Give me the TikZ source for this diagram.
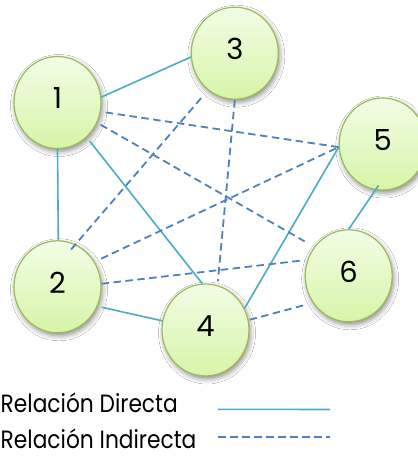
\documentclass[tikz,border=0pt]{standalone}
\usepackage{fontspec}
\setmainfont{Poppins}
\newfontfamily\legendfont[FakeStretch=0.87]{Poppins}
\usetikzlibrary{shapes.geometric,shadows.blur}
\definecolor{linkteal}{HTML}{4BACC6}
\definecolor{linkblue}{HTML}{4F81BD}
\definecolor{nodeborder}{HTML}{9BBB59}
\definecolor{nodetop}{RGB}{242,253,230}
\definecolor{nodebottom}{RGB}{214,245,168}
\tikzset{
  actor/.style={ellipse, minimum width=87pt, minimum height=92pt, inner sep=0pt,
    draw=nodeborder, line width=1.2pt, top color=nodetop, bottom color=nodebottom,
    blur shadow={shadow xshift=1.5pt, shadow yshift=-3pt, shadow blur radius=5pt, shadow opacity=45},
    font=\fontsize{29}{29}\selectfont, text height=20.5pt, text depth=8pt},
  directline/.style={draw=linkteal, line width=1.6pt},
  indirectline/.style={draw=linkblue, line width=1.8pt, dash pattern=on 7.5pt off 4.5pt},
  legendtext/.style={font=\legendfont\fontsize{25}{25}\selectfont, anchor=base west,
    inner sep=0pt, text depth=0pt}
}
\begin{document}
\begin{tikzpicture}[x=1pt,y=-1pt]
\useasboundingbox (0,0) rectangle (417,457);
\fill[white] (0,0) rectangle (417,457);
% nodes
\node[actor] (n1) at (57.5,102.5) {1};
\node[actor] (n3) at (234.8,53.2) {3};
\node[actor] (n5) at (382.7,144) {5};
\node[actor] (n2) at (57.5,286.8) {2};
\node[actor] (n4) at (205.5,330) {4};
\node[actor] (n6) at (348.7,275.8) {6};
% direct relations
\draw[directline] (n1.7.6) -- (n3.185);
\draw[directline] (n1.-90.4) -- (n2.89.6);
\draw[directline, shorten <=4.8pt] (n1.-50.7) -- (n4.94.3);
\draw[directline, shorten <=4.2pt] (n2.-26.8) -- (n4.168.3);
\draw[directline] (n4.29.7) -- (n5.184.5);
\draw[directline, shorten <=-5.4pt] (n5.-99.2) -- (n6.90.9);
% indirect relations
\draw[indirectline, shorten <=5pt] (n1.-12.5) -- (n5.184.5);
\draw[indirectline, shorten <=4pt, shorten >=11pt] (n1.-27.9) -- (n6.140);
\draw[indirectline, shorten <=10.5pt, shorten >=-7.9pt] (n3.-126.2) -- (n2.67.4);
\draw[indirectline, shorten >=3.8pt] (n3.south) -- (n4.75.4);
\draw[indirectline, shorten <=7.1pt] (n2.34.1) -- (n5.184.5);
\draw[indirectline, shorten >=2.8pt] (n2.4.9) -- (n6.159);
\draw[indirectline, shorten <=1pt, shorten >=9.9pt] (n4.13) -- (n6.-143.6);
% legend
\node[legendtext] (ldtext) at (0.5,412.5) {Relación Directa};
\node[legendtext] (litext) at (0.5,448.5) {Relación Indirecta};
\coordinate (ld1) at (218,409.3);
\coordinate (ld2) at (330,409.5);
\coordinate (li1) at (218,436.7);
\coordinate (li2) at (330,436.7);
\draw[directline] (ld1) -- (ld2);
\draw[indirectline] (li1) -- (li2);
\end{tikzpicture}
\end{document}
